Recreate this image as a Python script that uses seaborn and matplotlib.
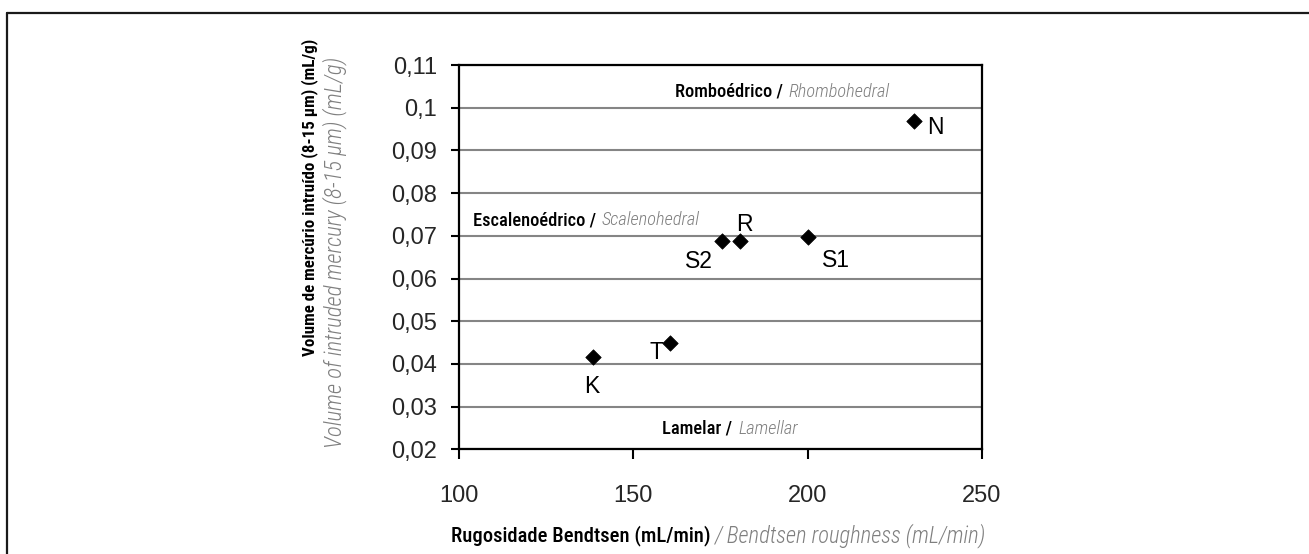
import matplotlib
matplotlib.use("Agg")
import matplotlib.pyplot as plt
from matplotlib.lines import Line2D
import seaborn as sns
import pandas as pd

# ---------------- data ----------------
samples = ["K", "T", "S2", "R", "S1", "N"]
roughness = [138.5, 160.5, 175.5, 180.5, 200.2, 230.6]
volume = [0.0415, 0.0448, 0.0687, 0.0687, 0.0698, 0.0969]

x_ticks = [100, 150, 200, 250]
x_ticklabels = ["100", "150", "200", "250"]
y_ticks = [0.02, 0.03, 0.04, 0.05, 0.06, 0.07, 0.08, 0.09, 0.10, 0.11]
y_ticklabels = ["0,02", "0,03", "0,04", "0,05", "0,06", "0,07", "0,08", "0,09", "0,1", "0,11"]

region_pt = ["Romboédrico", "Escalenoédrico", "Lamelar"]
region_en = ["Rhombohedral", "Scalenohedral", "Lamellar"]

xlabel_pt = "Rugosidade Bendtsen (mL/min)"
xlabel_en = "/ Bendtsen roughness (mL/min)"
ylabel_pt = "Volume de mercúrio intruído (8-15 μm) (mL/g)"
ylabel_en = "Volume of intruded mercury (8-15 μm) (mL/g)"

# ---------------- style ----------------
sns.set_style("white")
ARIAL = ["Liberation Sans", "DejaVu Sans"]
NARROW = ["Roboto Condensed", "Archivo Narrow", "Liberation Sans", "DejaVu Sans"]
plt.rcParams["font.family"] = ARIAL
GRAY = "#7f7f7f"

W, H = 1309, 554
fig = plt.figure(figsize=(W / 100, H / 100), dpi=100)
fig.patch.set_facecolor("white")

def fx(px):
    return px / W

def fy(py):
    return 1 - py / H

ax_l, ax_r, ax_t, ax_b = 459, 982, 65, 449.3
ax = fig.add_axes([fx(ax_l), fy(ax_b), (ax_r - ax_l) / W, (ax_b - ax_t) / H])

df = pd.DataFrame({"sample": samples, "roughness": roughness, "volume": volume})
sns.scatterplot(data=df, x="roughness", y="volume", marker="D", s=62,
                color="black", edgecolor="black", linewidth=0.5, ax=ax, zorder=5)

ax.set_xlim(100, 250)
ax.set_ylim(0.02, 0.11)
ax.set_xticks(x_ticks)
ax.set_xticklabels(x_ticklabels, fontsize=17, family=ARIAL)
ax.set_yticks(y_ticks)
ax.set_yticklabels(y_ticklabels, fontsize=17, family=ARIAL)
ax.set_xlabel("")
ax.set_ylabel("")
ax.yaxis.grid(True, color="#858585", linewidth=1.5)
ax.xaxis.grid(False)
for sp in ax.spines.values():
    sp.set_color("black")
    sp.set_linewidth(1.6)
    sp.set_visible(True)
ax.tick_params(axis="x", bottom=True, direction="out", length=7, width=1.5,
               color="black", pad=19)
ax.tick_params(axis="y", left=True, direction="out", length=6, width=1.5,
               color="black", pad=10)
ax.set_axisbelow(True)

# point labels (offsets in pixels)
offsets = {"K": (-1, -29), "T": (-14, -9), "S2": (-23, -20), "R": (5, 17),
           "S1": (28, -24), "N": (21, -7)}
for s, xv, yv in zip(samples, roughness, volume):
    ax.annotate(s, (xv, yv), xytext=offsets[s], textcoords="offset pixels",
                ha="center", va="center", fontsize=16.5, family=ARIAL, color="black")

renderer = fig.canvas.get_renderer()

def fit_pair(t1, t2, target):
    for _ in range(4):
        fig.canvas.draw()
        b1 = t1.get_window_extent(renderer)
        b2 = t2.get_window_extent(renderer)
        w = b2.x1 - b1.x0
        f = target / w
        t1.set_fontsize(t1.get_fontsize() * f)
        t2.set_fontsize(t2.get_fontsize() * f)

# region annotations: left x (data), y centre (data), total width px
region_pos = [(161.9, 0.1037, 215), (104.0, 0.0737, 228), (158.2, 0.0248, 136)]
for pt, en, (xl, yc, wpx) in zip(region_pt, region_en, region_pos):
    t1 = ax.text(xl, yc, pt + " /", ha="left", va="center", fontsize=12,
                 family=NARROW, weight="medium", color="black")
    t2 = ax.annotate(en, xy=(1, 0), xycoords=t1, xytext=(6, 0),
                     textcoords="offset pixels", ha="left", va="bottom",
                     fontsize=12, family=NARROW, style="italic", weight="light",
                     color=GRAY)
    fit_pair(t1, t2, wpx)

# x label (two parts)
tx1 = fig.text(fx(451), fy(536), xlabel_pt, ha="left", va="center", fontsize=15,
               family=NARROW, weight="medium", color="black")
tx2 = fig.text(fx(715), fy(536), xlabel_en, ha="left", va="center", fontsize=15,
               family=NARROW, style="italic", weight="light", color=GRAY)

# y label (two rotated lines)
ty1 = fig.text(fx(310), fy(197), ylabel_pt, rotation=90, ha="center", va="center",
               fontsize=13, family=NARROW, weight="bold", color="black")
ty2 = fig.text(fx(335), fy(252.5), ylabel_en, rotation=90, ha="center", va="center",
               fontsize=13, family=NARROW, style="italic", weight="light", color=GRAY)

def fit_single(t, target, vertical=False):
    for _ in range(4):
        fig.canvas.draw()
        b = t.get_window_extent(renderer)
        w = b.height if vertical else b.width
        t.set_fontsize(t.get_fontsize() * target / w)

fit_single(tx1, 258)
fit_single(tx2, 272)
fit_single(ty1, 318, vertical=True)
fit_single(ty2, 389, vertical=True)

# outer frame lines (left and top)
fig.add_artist(Line2D([fx(7), fx(7)], [0, fy(13)], transform=fig.transFigure,
                      color="#1a1a1a", linewidth=1.6))
fig.add_artist(Line2D([fx(7), 1], [fy(13), fy(13)], transform=fig.transFigure,
                      color="#1a1a1a", linewidth=1.6))

fig.savefig("out.png", dpi=100, facecolor="white")
